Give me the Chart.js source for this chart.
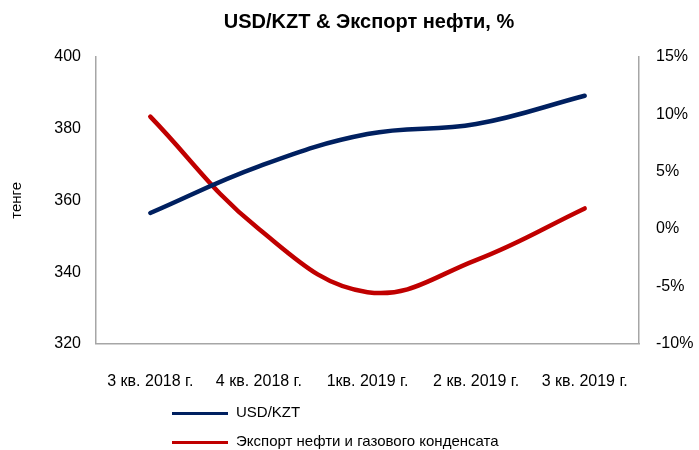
<!DOCTYPE html>
<html>
<head>
<meta charset="utf-8">
<script src="https://cdn.jsdelivr.net/npm/chart.js@4"></script>
<style>
  body { margin: 0; background: #fff; }
  #wrap { position: relative; width: 699px; height: 450px; }
  #title { position: absolute; top: 10px; left: 219px; width: 300px; text-align: center;
           font: bold 20px "Liberation Sans", Arial, sans-serif; color: #000; }
  .leg { position: absolute; left: 172px; font: 15px "Liberation Sans", Arial, sans-serif; color: #000; }
  .leg span { display: inline-block; width: 56px; height: 3px; vertical-align: middle; margin-right: 8px; }
</style>
</head>
<body>
<div id="wrap">
  <canvas id="chart" width="699" height="450"></canvas>
  <div id="title">USD/KZT &amp; Экспорт нефти, %</div>
  <div class="leg" style="top:403px"><span style="background:#002060"></span>USD/KZT</div>
  <div class="leg" style="top:432px"><span style="background:#C00000"></span>Экспорт нефти и газового конденсата</div>
</div>
<script>
// Quarters and series
let quarters = ["3 кв. 2018 г.", "4 кв. 2018 г.", "1кв. 2019 г.", "2 кв. 2019 г.", "3 кв. 2019 г."];
let usdKzt = [356.5, 369.5, 378.5, 381.3, 389.2];
let oilExport = [9.8, 0.0, -5.5, -2.7, 1.8];

let font = "'Liberation Sans', Arial, sans-serif";
let axisGray = "#A6A6A6";

new Chart(document.getElementById("chart").getContext("2d"), {
    type: "line",
    data: {
        labels: quarters,
        datasets: [{
            label: "USD/KZT",
            data: usdKzt,
            borderColor: "#002060",
            borderWidth: 4.5,
            tension: 0.4,
            pointRadius: 0,
            borderCapStyle: "round",
            yAxisID: "y"
        }, {
            label: "Экспорт нефти и газового конденсата",
            data: oilExport,
            borderColor: "#C00000",
            borderWidth: 4.5,
            tension: 0.4,
            pointRadius: 0,
            borderCapStyle: "round",
            yAxisID: "y2"
        }]
    },
    options: {
        responsive: false,
        animation: false,
        layout: { padding: { left: 8, right: 0, top: 57, bottom: 31 } },
        plugins: {
            legend: { display: false },
            tooltip: { enabled: false },
            title: { display: false }
        },
        scales: {
            x: {
                offset: true,
                grid: { display: false, drawTicks: false },
                border: { color: axisGray, width: 1.5 },
                ticks: { color: "#000", font: { family: font, size: 16 }, padding: 28, maxRotation: 0 }
            },
            y: {
                position: "left",
                min: 320, max: 400,
                grid: { display: false, drawTicks: false },
                border: { color: axisGray, width: 1.5 },
                ticks: { stepSize: 20, color: "#000", font: { family: font, size: 16 }, padding: 15 },
                title: { display: true, text: "тенге", color: "#000", font: { family: font, size: 15 }, padding: 0 },
                afterFit: function (s) { s.width = 88; }
            },
            y2: {
                position: "right",
                min: -10, max: 15,
                grid: { display: false, drawTicks: false },
                border: { color: axisGray, width: 1.5 },
                ticks: {
                    stepSize: 5, color: "#000", font: { family: font, size: 16 }, padding: 17,
                    callback: function (v) { return v + "%"; }
                },
                afterFit: function (s) { s.width = 60; }
            }
        }
    }
});
</script>
</body>
</html>
